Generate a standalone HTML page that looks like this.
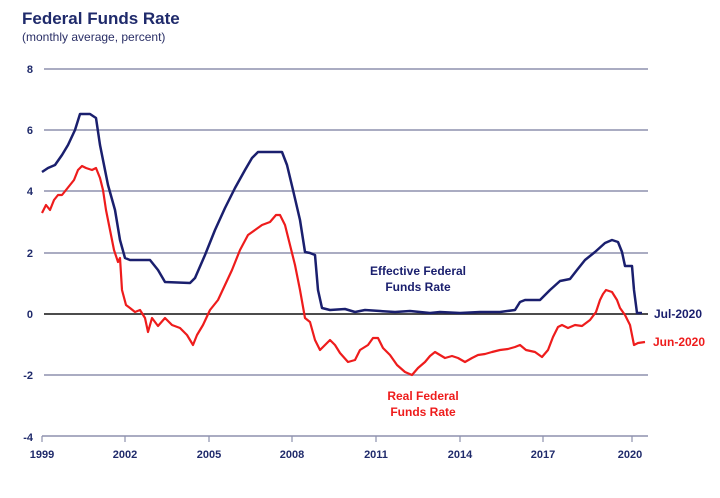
<!DOCTYPE html>
<html><head><meta charset="utf-8"><style>
html,body{margin:0;padding:0;background:#fff;}
svg{display:block;font-family:"Liberation Sans",Arial,sans-serif;}
</style></head><body>
<svg width="720" height="498" viewBox="0 0 720 498" xmlns="http://www.w3.org/2000/svg">
<rect width="720" height="498" fill="#fff"/>
<text x="22" y="24" font-size="17" font-weight="bold" fill="#1f2a6b">Federal Funds Rate</text>
<text x="22" y="41" font-size="12" fill="#2a2f66">(monthly average, percent)</text>
<g stroke="#8d91ad" stroke-width="1.5">
<line x1="44" y1="69" x2="648" y2="69"/>
<line x1="44" y1="130" x2="648" y2="130"/>
<line x1="44" y1="191" x2="648" y2="191"/>
<line x1="44" y1="253" x2="648" y2="253"/>
<line x1="44" y1="375" x2="648" y2="375"/>
<line x1="42" y1="436" x2="648" y2="436"/>
</g>
<line x1="44" y1="314" x2="648" y2="314" stroke="#333" stroke-width="1.8"/>
<g stroke="#8d91ad" stroke-width="1.2">
<line x1="42" y1="436" x2="42" y2="442"/><line x1="125" y1="436" x2="125" y2="442"/>
<line x1="209" y1="436" x2="209" y2="442"/><line x1="292" y1="436" x2="292" y2="442"/>
<line x1="376" y1="436" x2="376" y2="442"/><line x1="460" y1="436" x2="460" y2="442"/>
<line x1="543" y1="436" x2="543" y2="442"/><line x1="632" y1="436" x2="632" y2="442"/>
</g>
<g font-size="11" font-weight="bold" fill="#1f2a6b" text-anchor="end">
<text x="33" y="73">8</text><text x="33" y="134">6</text><text x="33" y="195">4</text>
<text x="33" y="257">2</text><text x="33" y="318">0</text><text x="33" y="379">-2</text><text x="33" y="441">-4</text>
</g>
<g font-size="11" font-weight="bold" fill="#1f2a6b" text-anchor="middle">
<text x="42" y="458">1999</text><text x="125" y="458">2002</text><text x="209" y="458">2005</text>
<text x="292" y="458">2008</text><text x="376" y="458">2011</text><text x="460" y="458">2014</text>
<text x="543" y="458">2017</text><text x="630" y="458">2020</text>
</g>
<polyline fill="none" stroke="#1a1f6e" stroke-width="2.5" stroke-linejoin="round" points="42,172 48,168 55,165 62,155 68,145 75,130 80,114 90,114 96,118 100,145 108,185 115,210 120,240 125,258 130,260 150,260 158,270 165,282 190,283 195,278 205,255 215,230 225,208 235,188 245,170 252,158 258,152 275,152 282,152 287,165 293,190 300,220 305,252 310,253 315,255 318,290 322,308 330,310 345,309 355,312 365,310 380,311 395,312 410,311 430,313 440,312 460,313 480,312 500,312 515,310 520,302 525,300 540,300 545,295 550,290 560,281 570,279 577,270 585,260 595,252 605,243 612,240 618,242 622,252 625,266 632,266 634,290 637,313 642,313"/>
<polyline fill="none" stroke="#ee1c1c" stroke-width="2.2" stroke-linejoin="round" points="42,213 46,205 50,210 54,200 58,195 62,195 66,190 70,185 74,180 78,170 82,166 86,168 92,170 96,168 100,178 103,190 106,210 110,230 114,250 118,262 120,258 122,290 126,305 130,308 135,312 140,310 145,318 148,332 152,318 158,326 165,318 172,325 180,328 187,335 193,345 197,335 203,325 210,310 218,300 225,285 232,270 240,250 248,235 255,230 262,225 270,222 276,215 280,215 285,225 290,245 295,265 300,290 305,318 310,322 315,340 320,350 325,345 330,340 335,345 340,353 348,362 355,360 360,350 368,345 373,338 378,338 383,348 390,355 397,365 405,372 412,375 418,368 425,362 430,356 435,352 440,355 445,358 452,356 458,358 465,362 472,358 478,355 485,354 492,352 500,350 508,349 515,347 520,345 526,350 535,352 542,357 548,350 553,337 558,327 562,325 568,328 575,325 582,326 590,320 596,312 600,300 603,294 606,290 612,292 617,300 620,308 625,315 630,325 634,345 638,343 645,342"/>
<g font-size="12" font-weight="bold" text-anchor="middle">
<text x="418" y="275" fill="#1a1f6e">Effective Federal</text>
<text x="418" y="291" fill="#1a1f6e">Funds Rate</text>
<text x="423" y="400" fill="#ee1c1c">Real Federal</text>
<text x="423" y="416" fill="#ee1c1c">Funds Rate</text>
</g>
<text x="654" y="318" font-size="12" font-weight="bold" fill="#1a1f6e">Jul-2020</text>
<text x="653" y="346" font-size="12" font-weight="bold" fill="#ee1c1c">Jun-2020</text>
</svg>
</body></html>
